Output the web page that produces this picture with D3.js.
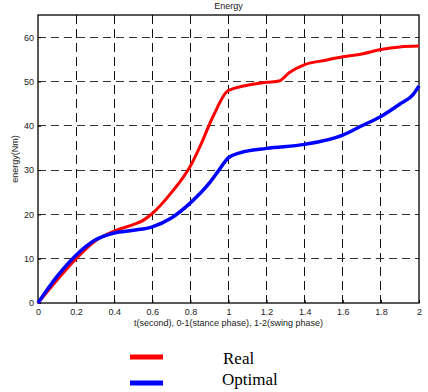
<!DOCTYPE html>
<html>
<head>
<meta charset="utf-8">
<script src="https://cdn.jsdelivr.net/npm/d3@7"></script>
<style>
  body { margin: 0; background: #fff; }
  svg { display: block; }
</style>
</head>
<body>
<div id="chart"></div>
<script>
// values
const realT = [0, 0.1, 0.2, 0.3, 0.4, 0.5, 0.55, 0.6, 0.7, 0.8, 0.85, 0.92, 1.0, 1.2, 1.265, 1.32, 1.4, 1.51, 1.6, 1.7, 1.8, 1.9, 2.0];
const realE = [0, 5.2, 10.0, 14.0, 16.2, 17.7, 18.6, 20.2, 24.9, 30.9, 35.3, 42.2, 48.0, 49.8, 50.1, 52.0, 53.8, 54.8, 55.6, 56.2, 57.2, 57.8, 58.0];
const optT = [0, 0.1, 0.2, 0.3, 0.4, 0.5, 0.6, 0.7, 0.8, 0.9, 0.95, 1.0, 1.06, 1.2, 1.4, 1.6, 1.7, 1.8, 1.9, 1.97, 2.0];
const optE = [0, 6.0, 10.8, 14.2, 15.8, 16.4, 17.2, 19.2, 22.6, 27.1, 30.0, 32.8, 33.9, 34.9, 35.8, 37.9, 40.0, 42.1, 44.9, 47.1, 49.0];
const xTicks = [0, 0.2, 0.4, 0.6, 0.8, 1, 1.2, 1.4, 1.6, 1.8, 2];
const yTicks = [0, 10, 20, 30, 40, 50, 60];
const seriesNames = ['Real', 'Optimal'];
const seriesColors = ['#ff0000', '#0000ff'];

const W = 428, H = 392;
const plot = { left: 38, top: 15, right: 419, bottom: 303 };

const svg = d3.select('#chart').append('svg')
  .attr('width', W).attr('height', H);

const x = d3.scaleLinear().domain([0, 2]).range([plot.left, plot.right]);
const y = d3.scaleLinear().domain([0, 65]).range([plot.bottom, plot.top]);

// grid
svg.append('g').selectAll('line')
  .data(xTicks.slice(1, -1))
  .join('line')
  .attr('x1', d => x(d)).attr('x2', d => x(d))
  .attr('y1', plot.top).attr('y2', plot.bottom)
  .attr('stroke', '#111').attr('stroke-width', 1)
  .attr('stroke-dasharray', '9,5')
  .attr('shape-rendering', 'crispEdges');

svg.append('g').selectAll('line')
  .data(yTicks.slice(1))
  .join('line')
  .attr('x1', plot.left).attr('x2', plot.right)
  .attr('y1', d => y(d)).attr('y2', d => y(d))
  .attr('stroke', '#333').attr('stroke-width', 1)
  .attr('stroke-dasharray', '8,5')
  .attr('shape-rendering', 'crispEdges');

// axes
const tickFont = '9px "Liberation Sans", Arial, sans-serif';

const xAxis = svg.append('g')
  .attr('transform', `translate(0,${plot.bottom})`)
  .call(d3.axisBottom(x).tickValues(xTicks).tickFormat(d3.format('~g')).tickSizeInner(-3).tickSizeOuter(0).tickPadding(6));
const yAxis = svg.append('g')
  .attr('transform', `translate(${plot.left},0)`)
  .call(d3.axisLeft(y).tickValues(yTicks).tickSizeInner(-3).tickSizeOuter(0).tickPadding(4));

[xAxis, yAxis].forEach(a => {
  a.select('.domain').remove();
  a.selectAll('text').style('font', tickFont).attr('fill', '#222');
  a.selectAll('line').attr('stroke', '#000');
});

// frame
svg.append('rect')
  .attr('x', plot.left).attr('y', plot.top)
  .attr('width', plot.right - plot.left).attr('height', plot.bottom - plot.top)
  .attr('fill', 'none').attr('stroke', '#000').attr('stroke-width', 1.3);

// lines
const line = d3.line().x(d => x(d[0])).y(d => y(d[1])).curve(d3.curveMonotoneX);
const series = [d3.zip(realT, realE), d3.zip(optT, optE)];

svg.append('g').selectAll('path')
  .data(series)
  .join('path')
  .attr('d', line)
  .attr('fill', 'none')
  .attr('stroke', (d, i) => seriesColors[i])
  .attr('stroke-width', (d, i) => i === 0 ? 3 : 3.5)
  .attr('stroke-linejoin', 'round');

// labels
svg.append('text')
  .attr('x', (plot.left + plot.right) / 2).attr('y', 9)
  .attr('text-anchor', 'middle')
  .style('font', tickFont).attr('fill', '#222')
  .text('Energy');

svg.append('text')
  .attr('x', (plot.left + plot.right) / 2).attr('y', 326)
  .attr('text-anchor', 'middle')
  .style('font', tickFont).attr('fill', '#222')
  .text('t(second), 0-1(stance phase), 1-2(swing phase)');

svg.append('text')
  .attr('transform', `translate(18,${(plot.top + plot.bottom) / 2}) rotate(-90)`)
  .attr('text-anchor', 'middle')
  .style('font', tickFont).attr('fill', '#222')
  .text('energy(Nm)');

// legend
const legend = svg.append('g').selectAll('g')
  .data(seriesNames)
  .join('g');

legend.append('line')
  .attr('x1', 130).attr('x2', 163)
  .attr('y1', (d, i) => 357 + i * 26).attr('y2', (d, i) => 357 + i * 26)
  .attr('stroke', (d, i) => seriesColors[i])
  .attr('stroke-width', 5);

legend.append('text')
  .attr('x', (d, i) => i === 0 ? 223 : 222)
  .attr('y', (d, i) => 364 + i * 21)
  .style('font', '17px "Liberation Serif", "Times New Roman", serif')
  .attr('fill', '#000')
  .text(d => d);
</script>
</body>
</html>
